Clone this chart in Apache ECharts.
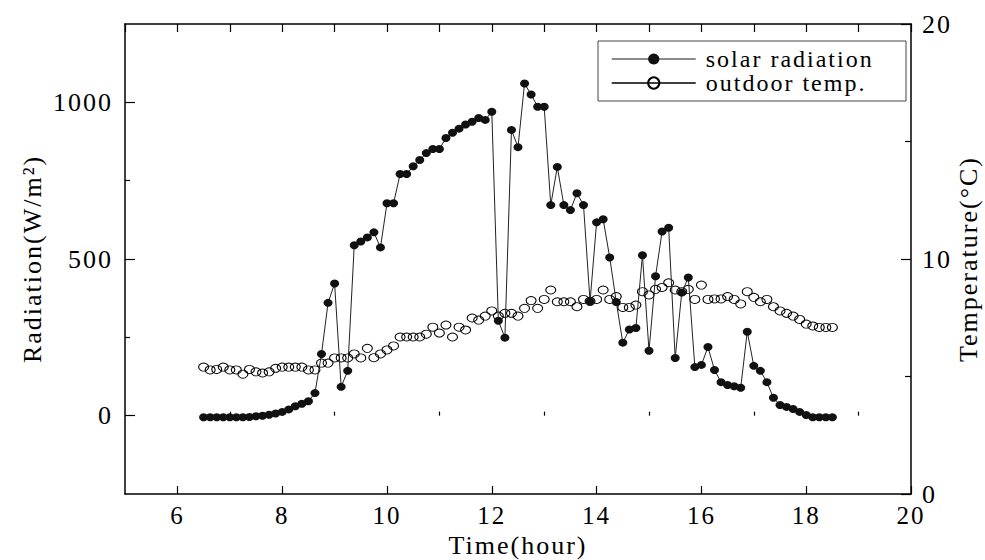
<!DOCTYPE html>
<html><head><meta charset="utf-8">
<script src="https://cdn.jsdelivr.net/npm/echarts@6/dist/echarts.min.js"></script>
<style>
html,body{margin:0;padding:0;background:#fff;}
#c{width:985px;height:560px;}
#c svg text{letter-spacing:2px;}
</style></head><body><div id="c"></div>
<script>
const times = [6.5,6.625,6.75,6.875,7,7.125,7.25,7.375,7.5,7.625,7.75,7.875,8,8.125,8.25,8.375,8.5,8.625,8.75,8.875,9,9.125,9.25,9.375,9.5,9.625,9.75,9.875,10,10.125,10.25,10.375,10.5,10.625,10.75,10.875,11,11.125,11.25,11.375,11.5,11.625,11.75,11.875,12,12.125,12.25,12.375,12.5,12.625,12.75,12.875,13,13.125,13.25,13.375,13.5,13.625,13.75,13.875,14,14.125,14.25,14.375,14.5,14.625,14.75,14.875,15,15.125,15.25,15.375,15.5,15.625,15.75,15.875,16,16.125,16.25,16.375,16.5,16.625,16.75,16.875,17,17.125,17.25,17.375,17.5,17.625,17.75,17.875,18,18.125,18.25,18.375,18.5];
const radiation = [-5,-5,-5,-5,-5,-5,-5,-4,
 -2,0,3,7,12,20,30,38,
 46,72,197,360,422,92,143,544,
 556,569,585,537,678,678,771,771,
 796,816,838,851,851,886,903,916,
 929,938,950,944,970,303,249,912,
 857,1060,1025,986,986,672,794,672,
 656,710,672,364,617,627,505,363,
 233,275,280,512,207,445,588,600,
 184,393,441,155,162,219,146,107,
 98,94,89,268,159,143,107,57,
 34,28,21,12,2,-5,-5,-5,
 -5];
const temperature = [5.4,5.28,5.3,5.4,5.28,5.28,5.1,5.3,
 5.2,5.15,5.2,5.35,5.4,5.4,5.4,5.4,
 5.28,5.28,5.57,5.57,5.79,5.79,5.79,5.96,
 5.79,6.2,5.8,5.96,6.13,6.3,6.68,6.68,
 6.68,6.68,6.8,7.1,6.85,7.19,6.68,7.1,
 6.98,7.49,7.4,7.57,7.79,7.57,7.69,7.69,
 7.57,7.9,8.23,7.9,8.28,8.68,8.18,8.18,
 8.18,7.97,8.28,8.2,8.28,8.68,8.28,8.4,
 7.94,7.94,8.04,8.61,8.47,8.71,8.79,8.99,
 8.68,8.61,8.71,8.28,8.89,8.28,8.3,8.3,
 8.4,8.28,8.09,8.61,8.37,8.18,8.28,7.97,
 7.79,7.69,7.57,7.43,7.23,7.15,7.09,7.09,
 7.09];
const xMajorTicks = [6,8,10,12,14,16,18,20];
const xMinorTicks = [7,9,11,13,15,17,19];
const yLeftMajor = [0,500,1000];
const yLeftMinor = [250,750];
const yRightMajor = [0,10,20];
const yRightMinor = [5,15];
const seriesNames = ['solar radiation','outdoor temp.'];
const axisTitles = ['Time(hour)', 'Radiation(W/m\u00B2)', 'Temperature(\u00B0C)'];

const F = 'Liberation Serif';
const chart = echarts.init(document.getElementById('c'), null, {renderer:'svg'});
const axisLine = {show:true, onZero:false, lineStyle:{color:'#000', width:1.5}};
const tickStyle = {color:'#000', width:1.2};
const lbl = {fontFamily:F, fontSize:26, color:'#000'};
const lblX = {fontFamily:F, fontSize:25, color:'#000', lineHeight:20};
const nameX = {fontFamily:F, fontSize:26, color:'#000', lineHeight:20};
const fmt = v => String(v);
const noSplit = {show:false};
chart.setOption({
  animation:false,
  backgroundColor:'#fff',
  grid:{left:125, right:74, top:24, bottom:66, containLabel:false, outerBoundsMode:'none'},
  xAxis:[
    {type:'value', position:'bottom', min:5, max:20, axisLine, splitLine:noSplit,
     axisTick:{show:true, inside:true, length:8, customValues:xMajorTicks, lineStyle:tickStyle},
     axisLabel:Object.assign({customValues:xMajorTicks, margin:11, formatter:fmt}, lblX),
     name:axisTitles[0], nameLocation:'middle', nameGap:41, nameMoveOverlap:false, nameTextStyle:nameX},
    {type:'value', position:'bottom', min:5, max:20, axisLine:{show:false}, splitLine:noSplit,
     axisTick:{show:true, inside:true, length:4, customValues:xMinorTicks, lineStyle:tickStyle},
     axisLabel:{show:false}},
    {type:'value', position:'top', min:5, max:20, interval:1, axisLine, splitLine:noSplit,
     axisTick:{show:true, inside:true, length:8, lineStyle:tickStyle}, axisLabel:{show:false}}
  ],
  yAxis:[
    {type:'value', position:'left', min:-250, max:1250, axisLine, splitLine:noSplit,
     axisTick:{show:true, inside:true, length:10, customValues:yLeftMajor, lineStyle:tickStyle},
     axisLabel:Object.assign({customValues:yLeftMajor, margin:12, formatter:fmt}, lbl),
     name:axisTitles[1], nameLocation:'middle', nameGap:80, nameRotate:90, nameMoveOverlap:false, nameTextStyle:lbl},
    {type:'value', position:'left', min:-250, max:1250, axisLine:{show:false}, splitLine:noSplit,
     axisTick:{show:true, inside:true, length:5, customValues:yLeftMinor, lineStyle:tickStyle},
     axisLabel:{show:false}},
    {type:'value', position:'right', min:0, max:20, axisLine, splitLine:noSplit,
     axisTick:{show:true, inside:true, length:10, customValues:yRightMajor, lineStyle:tickStyle},
     axisLabel:Object.assign({customValues:yRightMajor, margin:11, formatter:fmt}, lbl),
     name:axisTitles[2], nameLocation:'middle', nameGap:44, nameRotate:90, nameMoveOverlap:false, nameTextStyle:lbl},
    {type:'value', position:'right', min:0, max:20, axisLine:{show:false}, splitLine:noSplit,
     axisTick:{show:true, inside:true, length:6, customValues:yRightMinor, lineStyle:tickStyle},
     axisLabel:{show:false}}
  ],
  legend:{
    orient:'vertical', left:611, top:47, padding:0, itemWidth:84, itemHeight:14, itemGap:0,
    textStyle:{fontFamily:F, fontSize:24, color:'#000', lineHeight:14, padding:[0,0,0,5]},
    data:[
      {name:seriesNames[0], lineStyle:{color:'#666', width:1.5, opacity:1}},
      {name:seriesNames[1], lineStyle:{color:'#000', width:1.5, opacity:1}}
    ]
  },
  graphic:[
    {type:'rect', shape:{x:598, y:41, width:308, height:60}, style:{fill:'none', stroke:'#444', lineWidth:1}, z:10}
  ],
  series:[
    {name:seriesNames[0], type:'line', xAxisIndex:0, yAxisIndex:0,
     data:times.map((t,i)=>[t, radiation[i]]), symbol:'circle', symbolSize:[9,8], showAllSymbol:true,
     itemStyle:{color:'#111'}, lineStyle:{color:'#222', width:1}, z:3},
    {name:seriesNames[1], type:'line', xAxisIndex:0, yAxisIndex:2,
     data:times.map((t,i)=>[t, temperature[i]]), symbol:'circle', symbolSize:[10,8], showAllSymbol:true,
     itemStyle:{color:'rgba(255,255,255,0)', borderColor:'#000', borderWidth:1}, lineStyle:{width:1, opacity:0}, z:2}
  ]
});
</script></body></html>
